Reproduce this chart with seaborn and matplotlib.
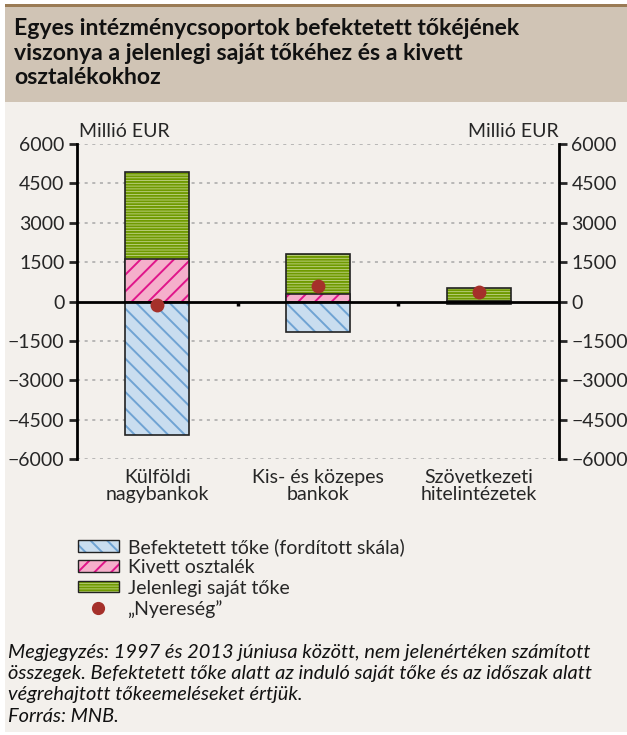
import numpy as np
import pandas as pd
import matplotlib
matplotlib.use("Agg")
import matplotlib.pyplot as plt
from matplotlib.patches import Rectangle, Patch
from matplotlib.lines import Line2D
from matplotlib.colors import to_rgba
import seaborn as sns

# Data (millió EUR)
categories = ["Külföldi\nnagybankok", "Kis- és közepes\nbankok", "Szövetkezeti\nhitelintézetek"]
befektetett = [-5070, -1170, -110]   # invested capital (reversed scale)
osztalek = [1620, 300, 20]           # dividends taken out
sajat_toke = [3320, 1515, 500]       # current equity, stacked on dividends
nyereseg = [-150, 580, 380]          # "profit"
y_ticks = [-6000, -4500, -3000, -1500, 0, 1500, 3000, 4500, 6000]

df = pd.DataFrame({
    "cat": categories,
    "befektetett": befektetett,
    "osztalek": osztalek,
    "total": np.array(osztalek) + np.array(sajat_toke),
    "nyereseg": nyereseg,
})

sns.set_style("white")
plt.rcParams["font.family"] = ["Lato", "DejaVu Sans"]
plt.rcParams["hatch.linewidth"] = 1.4

BG = "#F3F0EC"
FS = 14
fig = plt.figure(figsize=(6.27, 7.35), dpi=100)
fig.patch.set_facecolor("white")

# background panels
fig.patches.append(Rectangle((5 / 627, 0.004), 1, 1 - 0.004 - 102 / 735, transform=fig.transFigure,
                             facecolor=BG, edgecolor="none", zorder=-5))
fig.patches.append(Rectangle((5 / 627, 1 - 102 / 735), 1, 95 / 735, transform=fig.transFigure,
                             facecolor="#D0C4B5", edgecolor="none", zorder=-5))
fig.patches.append(Rectangle((5 / 627, 1 - 7 / 735), 1, 3 / 735, transform=fig.transFigure,
                             facecolor="#9A7B55", edgecolor="none", zorder=-5))

fig.text(0.022, 1 - 18 / 735, "Egyes intézménycsoportok befektetett tőkéjének\nviszonya a jelenlegi saját tőkéhez és a kivett\nosztalékokhoz",
         fontsize=16.6, fontweight="bold", va="top", ha="left", linespacing=1.22, color="#111111")

ax = fig.add_axes([77 / 627, 1 - 459 / 735, 482 / 627, 315 / 735])
ax.set_facecolor(BG)

def style_bars(start, fc, hc, hatch):
    for p in ax.patches[start:]:
        p.set_facecolor(fc)
        p.set_edgecolor("#222222")
        p.set_linewidth(1.2)
        p.set_hatch(hatch)
        p._hatch_color = to_rgba(hc)

n0 = len(ax.patches)
sns.barplot(data=df, x="cat", y="befektetett", ax=ax, width=0.4, zorder=3)
style_bars(n0, "#C9DDEF", "#6FA3D3", "\\\\")
n0 = len(ax.patches)
sns.barplot(data=df, x="cat", y="total", ax=ax, width=0.4, zorder=3)
style_bars(n0, "#C3D48A", "#6F9A00", "------")
n0 = len(ax.patches)
sns.barplot(data=df, x="cat", y="osztalek", ax=ax, width=0.4, zorder=4)
style_bars(n0, "#F5AFCB", "#E0158A", "//")

sns.stripplot(data=df, x="cat", y="nyereseg", ax=ax, jitter=False, color="#A5302A",
              size=10, zorder=6)

ax.set_xlim(-0.5, 2.5)
ax.set_ylim(-6000, 6000)
ax.set_yticks(y_ticks)
ax.set_yticklabels([str(v).replace("-", "\u2212") for v in y_ticks], fontsize=FS)
for v in y_ticks:
    if v != 0:
        ax.axhline(v, color="#A8A8A8", lw=1.1, ls=(0, (2, 3)), zorder=1)
ax.axhline(0, color="black", lw=2, zorder=5)

ax.spines["top"].set_visible(False)
ax.spines["bottom"].set_visible(False)
for s in ["left", "right"]:
    ax.spines[s].set_linewidth(2)
    ax.spines[s].set_color("black")
ax.tick_params(axis="y", which="major", direction="out", length=6, width=2, pad=3,
               left=True, right=True, labelleft=True, labelright=True, labelsize=FS)

# category labels below the plot; small separators on the zero line
ax.set_xticks([0, 1, 2])
ax.set_xticklabels(categories, fontsize=FS, linespacing=1.0)
ax.tick_params(axis="x", which="major", length=0, pad=7)
for xm in [0.5, 1.5]:
    ax.plot([xm, xm], [0, -170], color="black", lw=2.5, zorder=5, solid_capstyle="butt")
ax.set_xlabel("")
ax.set_ylabel("")

ax.text(0.005, 1.012, "Millió EUR", transform=ax.transAxes, ha="left", va="bottom", fontsize=FS)
ax.text(1.0, 1.012, "Millió EUR", transform=ax.transAxes, ha="right", va="bottom", fontsize=FS)

# legend
h_blue = Patch(facecolor="#C9DDEF", edgecolor="#222222", hatch="\\\\", lw=1)
h_pink = Patch(facecolor="#F5AFCB", edgecolor="#222222", hatch="//", lw=1)
h_green = Patch(facecolor="#C3D48A", edgecolor="#222222", hatch="------", lw=1)
h_blue._hatch_color = to_rgba("#6FA3D3")
h_pink._hatch_color = to_rgba("#E0158A")
h_green._hatch_color = to_rgba("#6F9A00")
h_dot = Line2D([], [], marker="o", color="#A5302A", ls="none", markersize=8.5)
leg = fig.legend([h_blue, h_pink, h_green, h_dot],
                 ["Befektetett tőke (fordított skála)", "Kivett osztalék", "Jelenlegi saját tőke", "„Nyereség”"],
                 loc="upper left", bbox_to_anchor=(78 / 627, 1 - 538 / 735), frameon=False, fontsize=FS,
                 handlelength=2.1, handleheight=0.55, handletextpad=0.45, labelspacing=0.17,
                 borderpad=0, borderaxespad=0)

fig.text(0.012, 1 - 644 / 735, "Megjegyzés: 1997 és 2013 júniusa között, nem jelenértéken számított\n"
         "összegek. Befektetett tőke alatt az induló saját tőke és az időszak alatt\n"
         "végrehajtott tőkeemeléseket értjük.\nForrás: MNB.",
         fontsize=14.4, style="italic", va="top", ha="left", linespacing=1.3, color="#111111")

fig.savefig("out.png", dpi=100, facecolor=fig.get_facecolor())
